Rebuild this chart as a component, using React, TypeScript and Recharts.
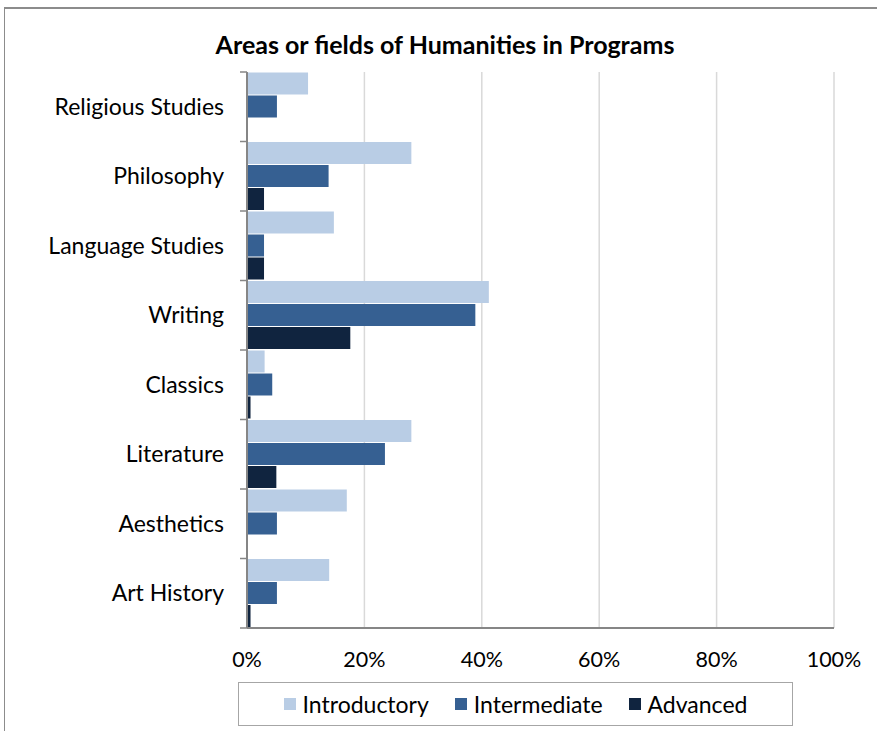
import { Bar, BarChart, CartesianGrid, XAxis, YAxis } from "recharts";

const categories = [
  "Religious Studies",
  "Philosophy",
  "Language Studies",
  "Writing",
  "Classics",
  "Literature",
  "Aesthetics",
  "Art History",
];
const introductory = [10.4, 28.0, 14.8, 41.2, 3.0, 28.0, 17.0, 14.0];
const intermediate = [5.1, 13.9, 2.9, 38.9, 4.3, 23.5, 5.1, 5.1];
const advanced = [0, 2.9, 2.9, 17.6, 0.6, 5.0, 0, 0.6];
const xTicks = [0, 20, 40, 60, 80, 100];

const series = [
  { key: "introductory", name: "Introductory", color: "#B9CDE5" },
  { key: "intermediate", name: "Intermediate", color: "#366092" },
  { key: "advanced", name: "Advanced", color: "#10243F" },
];

const data = categories.map((name, i) => ({
  name,
  introductory: introductory[i],
  intermediate: intermediate[i],
  advanced: advanced[i],
}));

const FONT = "Lato, 'Open Sans', sans-serif";
const AXIS = "#868686";
const W = 877;
const H = 731;
const X_AXIS_H = 30;
const M = { top: 72, right: 43, bottom: 73, left: 0 };
const BAND = (H - M.top - M.bottom - X_AXIS_H) / categories.length;
const LABEL_GAP = 23;

// category label plus the Excel-style tick mark on the band boundary
function CatTick(props: any) {
  const { x, y, payload, index } = props;
  const ax = x + LABEL_GAP;
  return (
    <g>
      <line x1={ax - 7} x2={ax} y1={y - BAND / 2} y2={y - BAND / 2} stroke={AXIS} strokeWidth={1.5} />
      {index === categories.length - 1 && (
        <line x1={ax - 7} x2={ax} y1={y + BAND / 2} y2={y + BAND / 2} stroke={AXIS} strokeWidth={1.5} />
      )}
      <text x={x} y={y} dy="0.35em" textAnchor="end" fontSize={23} fontFamily={FONT} fill="#000">
        {payload.value}
      </text>
    </g>
  );
}

function LegendBox() {
  return (
    <div
      style={{
        position: "absolute",
        left: 238,
        top: 682,
        width: 555,
        height: 44,
        border: "1px solid #A6A6A6",
        display: "flex",
        alignItems: "center",
        justifyContent: "center",
        gap: 26,
        fontFamily: FONT,
        fontSize: 23,
        color: "#000",
        boxSizing: "border-box",
      }}
    >
      {series.map((s) => (
        <div key={s.key} style={{ display: "flex", alignItems: "center", gap: 7 }}>
          <span style={{ width: 12, height: 12, background: s.color, display: "inline-block" }} />
          <span>{s.name}</span>
        </div>
      ))}
    </div>
  );
}

export default function App() {
  return (
    <div
      style={{
        position: "absolute",
        left: 0,
        top: 0,
        width: W,
        height: H,
        background: "#fff",
        overflow: "hidden",
      }}
    >
      <div
        style={{
          position: "absolute",
          left: 4,
          top: 7,
          width: 900,
          height: 800,
          borderLeft: "1.5px solid #8C8C8C",
          borderTop: "2px solid #8C8C8C",
        }}
      />
      <div
        style={{
          position: "absolute",
          top: 28,
          left: 0,
          width: 890,
          textAlign: "center",
          fontFamily: FONT,
          fontWeight: 700,
          fontSize: 25,
          lineHeight: "32px",
        }}
      >
        Areas or fields of Humanities in Programs
      </div>
      <div style={{ position: "absolute", left: 0, top: 0 }}>
        <BarChart
          width={W}
          height={H}
          data={data}
          layout="vertical"
          margin={M}
          barCategoryGap={0.5}
          barGap={1}
        >
          <CartesianGrid horizontal={false} stroke="#D9D9D9" strokeWidth={1.5} />
          <XAxis
            type="number"
            domain={[0, 100]}
            ticks={xTicks}
            height={X_AXIS_H}
            tickFormatter={(v) => `${v}%`}
            axisLine={{ stroke: AXIS, strokeWidth: 2 }}
            tickLine={false}
            tickMargin={18}
            tick={{ fill: "#000", fontSize: 21.5, fontFamily: FONT }}
            interval={0}
          />
          <YAxis
            type="category"
            dataKey="name"
            width={247}
            axisLine={{ stroke: AXIS, strokeWidth: 2 }}
            tickLine={false}
            tickSize={0}
            tickMargin={LABEL_GAP}
            tick={<CatTick />}
            interval={0}
          />
          {series.map((s) => (
            <Bar
              key={s.key}
              dataKey={s.key}
              name={s.name}
              fill={s.color}
              isAnimationActive={false}
            />
          ))}
        </BarChart>
      </div>
      <LegendBox />
    </div>
  );
}
